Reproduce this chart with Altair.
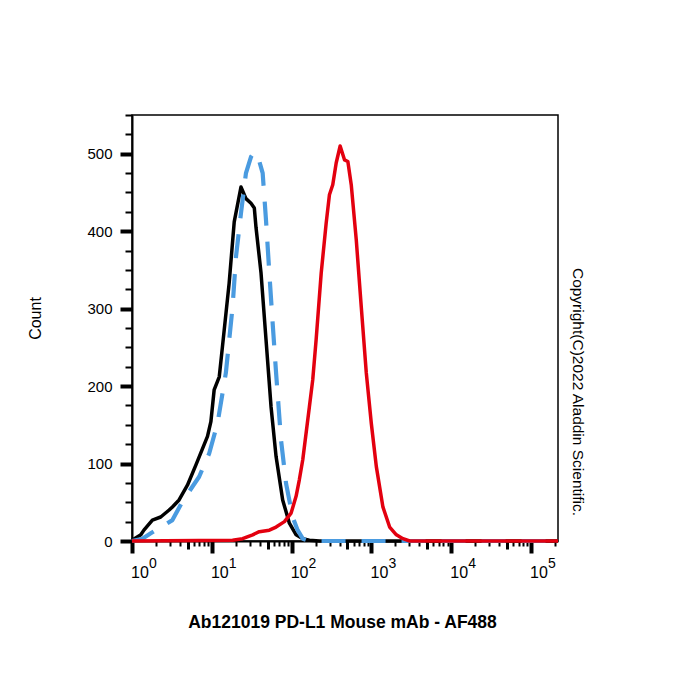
import altair as alt
import pandas as pd

FONT = "Liberation Sans"

# ---- data ----
black_x = [1.0, 1.29, 1.41, 1.80, 2.29, 2.92, 3.21, 3.89, 4.95, 6.31, 8.83, 9.74, 10.7, 12.4, 13.6,
           16.5, 19.1, 23.2, 26.8, 31.0, 34.1, 35.8, 41.4, 47.8, 55.3, 63.9, 77.3, 93.8, 114, 138,
           167, 223, 218000]
black_y = [1, 8, 14, 27, 31, 40, 44, 53, 72, 98, 135, 154, 195, 212, 251,
           333, 412, 457, 442, 436, 430, 405, 346, 260, 173, 109, 53, 23, 8, 3,
           1, 0, 0]

blue_x = [1.0, 1.35, 1.72, 3.21, 4.29, 6.94, 9.27, 11.8, 15.0, 18.2, 20.1, 23.2, 26.8, 31.0,
          34.1, 37.5, 43.4, 47.8, 52.6, 57.9, 63.9, 73.8, 85.3, 103, 119, 138, 167, 218000]
blue_y = [0, 3, 10, 27, 51, 83, 113, 152, 217, 302, 367, 423, 475, 496,
          502, 498, 475, 414, 346, 281, 217, 130, 74, 31, 14, 3, 0, 0]

red_x = [1.0, 18.2, 24.3, 32.5, 39.4, 52.6, 63.9, 81.3, 98.6, 114, 125, 138, 167, 184, 203,
         235, 271, 298, 328, 362, 406, 461, 507, 559, 646, 747, 863, 997, 1153, 1394,
         1693, 2055, 2488, 3020, 218000]
red_y = [0, 1, 3, 8, 12, 14, 18, 25, 36, 58, 79, 105, 173, 208, 260,
         346, 410, 447, 460, 488, 510, 492, 490, 460, 389, 302, 217, 152, 96, 44,
         18, 8, 3, 0, 0]

decades = [1, 10, 100, 1000, 10000, 100000]
exponents = ["0", "1", "2", "3", "4", "5"]
y_ticks = [v * 25 for v in range(0, 23)]
x_ticks = [k * 10 ** e for e in range(0, 6) for k in range(1, 10) if k * 10 ** e <= 218000]

x_title = "Ab121019 PD-L1 Mouse mAb - AF488"
y_title = "Count"
copyright_text = "Copyright(C)2022 Aladdin Scientific."

W, H = 426, 426

decade_test = "indexof([1,10,100,1000,10000,100000], datum.value) >= 0"
five_test = "indexof([5,50,500,5000,50000], datum.value) >= 0"
y_major_test = "datum.value % 100 === 0 && datum.value <= 500"

x_axis = alt.Axis(
    values=x_ticks, labels=False, grid=False,
    title=x_title, titleFont=FONT, titleFontSize=17.5, titleFontWeight="bold",
    titleColor="black", titleBaseline="alphabetic", titleX=210, titleY=86,
    domainColor="black", domainWidth=2, tickColor="black",
    tickSize={"condition": [{"test": decade_test, "value": 12}, {"test": five_test, "value": 8}], "value": 5},
    tickWidth={"condition": [{"test": decade_test, "value": 4}, {"test": five_test, "value": 3}], "value": 2},
)
y_axis = alt.Axis(
    values=y_ticks, grid=False,
    labelExpr="datum.value % 100 === 0 && datum.value <= 500 ? datum.label : ''",
    labelFont=FONT, labelFontSize=15, labelColor="black", labelPadding=8,
    title=y_title, titleFont=FONT, titleFontSize=16, titleFontWeight="normal",
    titleColor="black", titleX=-89, titleY=203,
    domainColor="black", domainWidth=2, tickColor="black",
    tickSize={"condition": {"test": y_major_test, "value": 12}, "value": 7},
    tickWidth={"condition": {"test": y_major_test, "value": 4}, "value": 2},
)

x_enc = alt.X("x:Q", scale=alt.Scale(type="log", domain=[1, 218000], nice=False), axis=x_axis)
y_enc = alt.Y("y:Q", scale=alt.Scale(domain=[0, 550], nice=False, zero=False), axis=y_axis)


def line_layer(xs, ys, color, width, dash=None):
    df = pd.DataFrame({"x": xs, "y": ys})
    kw = dict(color=color, strokeWidth=width, strokeJoin="round")
    if dash:
        kw["strokeDash"] = dash
        kw["strokeCap"] = "butt"
    return alt.Chart(df).mark_line(**kw).encode(x=x_enc, y=y_enc)


black = line_layer(black_x, black_y, "#000000", 3.5)
blue = line_layer(blue_x, blue_y, "#4a9be0", 4.2, dash=[24, 16])
red = line_layer(red_x, red_y, "#e3000f", 3.5)

lab_df = pd.DataFrame({"x": decades, "e": exponents, "b": ["10"] * len(decades)})
base_lab = alt.Chart(lab_df).mark_text(
    font=FONT, fontSize=16, align="center", baseline="alphabetic", dx=8, color="black"
).encode(x=x_enc, y=alt.value(H + 37), text="b:N")
exp_lab = alt.Chart(lab_df).mark_text(
    font=FONT, fontSize=14, align="left", baseline="alphabetic", dx=17, color="black"
).encode(x=x_enc, y=alt.value(H + 27), text="e:N")

copy_lab = alt.Chart(pd.DataFrame({"t": [copyright_text]})).mark_text(
    font=FONT, fontSize=15.5, angle=90, align="center", baseline="middle", color="black"
).encode(x=alt.value(W + 20), y=alt.value(277), text="t:N")

chart = alt.layer(black, blue, red, base_lab, exp_lab, copy_lab).properties(
    width=W, height=H,
    padding={"left": 132, "top": 115, "right": 142, "bottom": 159},
    autosize=alt.AutoSizeParams(type="none"),
    background="white",
).configure_view(stroke="black", strokeWidth=1.5)

chart.save("out.html", embed_options={"renderer": "svg", "actions": False})
